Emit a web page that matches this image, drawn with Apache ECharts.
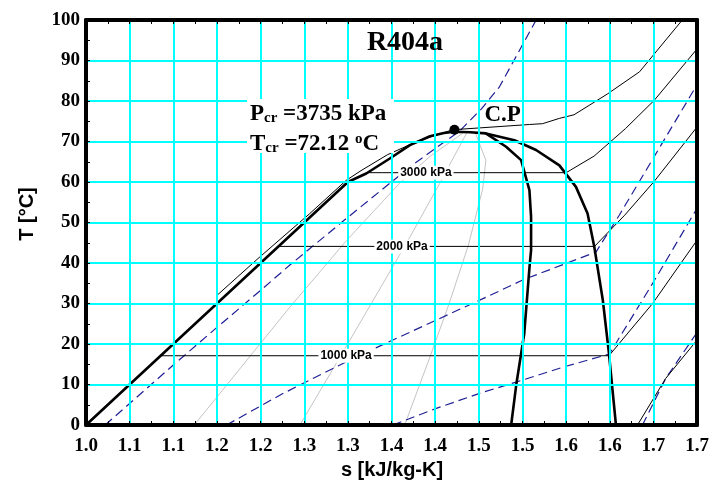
<!DOCTYPE html>
<html><head><meta charset="utf-8">
<script src="https://cdn.jsdelivr.net/npm/echarts@6/dist/echarts.min.js"></script>
<style>html,body{margin:0;padding:0;background:#fff}#c{width:712px;height:493px}</style>
</head><body><div id="c"></div>
<script>
// ---- tick labels ----
const xTickLabels = ['1.0','1.1','1.1','1.2','1.2','1.3','1.3','1.4','1.4','1.5','1.5','1.6','1.6','1.7','1.7'];
const yTickLabels = ['0','10','20','30','40','50','60','70','80','90','100'];

// ---- saturation dome (liquid + top + vapour) ----
const domeS = [1.000,1.050,1.100,1.150,1.200,1.250,1.300,1.321,1.348,1.371,1.394,1.410,1.422,1.440,1.458,1.4907,1.5155,1.5422,1.5612,1.5745,1.5822,1.592,1.599,1.607];
const domeT = [0,10,20,30,40,50,60,62.1,65.8,69.1,71.3,72.1,72.4,72.3,72.0,70.3,67.9,64.1,58.8,52.2,44.0,30.8,17.7,0];

// ---- inner thick quality line ----
const innerS = [1.458,1.4812,1.4984,1.5079,1.5098,1.5098,1.508,1.502,1.493,1.487];
const innerT = [72.0,68.7,65.4,58.0,51.4,43.2,39.0,22.6,10.2,0];

// ---- grey quality lines ----
const g1S = [1.124,1.2335,1.2986,1.3593,1.395,1.432];
const g1T = [0,29.1,45.6,59.7,66.5,72.1];
const g2S = [1.245,1.300,1.359,1.371,1.405,1.436];
const g2T = [0,20.1,41.9,46.4,59.6,72.1];
const g3S = [1.365,1.394,1.416,1.438,1.4545,1.458,1.446];
const g3T = [0,16.8,30.0,44.4,58.4,65.4,72.1];

// ---- isobars (thin black) ----
const pHighS = [1.150,1.197,1.2563,1.298,1.315,1.345,1.380,1.420,1.508,1.523,1.5421,1.559,1.597,1.634,1.683,1.690];
const pHighT = [32.0,41.1,52.2,60.4,62.8,66.7,70.1,72.9,74.2,74.4,75.7,76.6,81.7,87.2,100,102];
const p3000S = [1.322,1.550,1.582,1.618,1.651,1.6985,1.71];
const p3000T = [62.3,62.3,66.4,73.2,80.2,92.5,95];
const p2000S = [1.220,1.5825,1.617,1.651,1.6985,1.71];
const p2000T = [44.1,44.1,51.8,60.2,73.2,76];
const p1000S = [1.0855,1.599,1.649,1.6985,1.71];
const p1000T = [17.1,17.1,30.0,45.2,49];
const pLowS = [1.6317,1.664,1.6985,1.71];
const pLowT = [0,11.5,20.6,24];

// ---- dashed navy lines ----
const d1S = [1.022,1.100,1.150,1.2003,1.2335,1.300,1.3498,1.3764,1.428,1.4527,1.4736,1.5156];
const d1T = [0,14.8,24.1,33.3,39.5,51.3,60.0,64.6,72.6,78.0,83.5,100];
const d2S = [1.161,1.224,1.2944,1.3326,1.4012,1.4627,1.5002,1.5498,1.5841,1.6108,1.6985,1.71];
const d2T = [0,7.6,15.2,19.1,25.9,32.0,35.8,39.9,42.7,51.8,83.5,87];
const d3S = [1.3515,1.4012,1.4507,1.4927,1.5498,1.5994,1.6489,1.6985,1.71];
const d3T = [0,4.1,7.8,10.6,14.5,17.5,34.9,53.0,57];
const d4S = [1.6374,1.664,1.6985,1.71];
const d4T = [0,11.5,22.4,26];

// ---- critical point & labels ----
const cpS = [1.422];
const cpT = [72.9];
const isoLabelText = ['3000 kPa','2000 kPa','1000 kPa'];
const isoLabelS = [1.3893,1.362,1.2979];
const isoLabelT = [62.3,44.1,17.1];

const zip = (a,b) => a.map((v,i)=>[v,b[i]]);
const SERIF = "'Liberation Serif','Times New Roman',serif";
const SANS = "'Liberation Sans',Arial,sans-serif";
const NAVY = '#1f1f96';

function line(s,t,color,width,type,z){
  return {type:'line',data:zip(s,t),symbol:'none',showSymbol:false,silent:true,
    lineStyle:{color:color,width:width,type:type||'solid'},z:z||2,animation:false};
}

const chart = echarts.init(document.getElementById('c'),null,{renderer:'canvas'});
const frameLine = {show:true,onZero:false,lineStyle:{color:'#000',width:4}};
const axisCommon = {
  axisLine:frameLine,
  axisTick:{show:true,inside:true,length:4,lineStyle:{color:'#000',width:1}},
  minorTick:{show:true,splitNumber:2,length:4,lineStyle:{color:'#000',width:1}},
  z:4
};
const gridLine = {show:true,showMinLine:false,showMaxLine:false,lineStyle:{color:'#00ffff',width:2}};
chart.setOption({
  animation:false,
  backgroundColor:'#fff',
  grid:{left:86,right:14,top:20,bottom:68,show:false},
  xAxis:[
    Object.assign({type:'value',min:1.0,max:1.7,interval:0.05,position:'bottom',
      splitLine:gridLine,
      axisLabel:{color:'#000',fontFamily:SERIF,fontWeight:'bold',fontSize:19,margin:12,
        formatter:v=>xTickLabels[Math.round((v-1.0)/0.05)]}},axisCommon),
    Object.assign({type:'value',min:1.0,max:1.7,interval:0.05,position:'top',
      splitLine:{show:false},axisLabel:{show:false}},axisCommon)
  ],
  yAxis:[
    Object.assign({type:'value',min:0,max:100,interval:10,position:'left',
      splitLine:gridLine,
      axisLabel:{color:'#000',fontFamily:SERIF,fontWeight:'bold',fontSize:19,margin:6,
        formatter:v=>yTickLabels[Math.round(v/10)]}},axisCommon),
    {type:'value',min:0,max:100,interval:10,position:'right',z:4,
      splitLine:{show:false},axisLabel:{show:false},axisTick:{show:false},minorTick:{show:false},
      axisLine:frameLine}
  ],
  series:[
    line(g1S,g1T,'#c4c4c4',1),
    line(g2S,g2T,'#c4c4c4',1),
    line(g3S,g3T,'#c4c4c4',1),
    line(d1S,d1T,NAVY,1.2,[9,5]),
    line(d2S,d2T,NAVY,1.2,[9,5]),
    line(d3S,d3T,NAVY,1.2,[9,5]),
    line(d4S,d4T,NAVY,1.2,[9,5]),
    line(pHighS,pHighT,'#000',1),
    line(p3000S,p3000T,'#000',1),
    line(p2000S,p2000T,'#000',1),
    line(p1000S,p1000T,'#000',1),
    line(pLowS,pLowT,'#000',1),
    line(domeS,domeT,'#000',2.6,'solid',3),
    line(innerS,innerT,'#000',2.6,'solid',3),
    {type:'scatter',data:zip(isoLabelS,isoLabelT).map((p,i)=>[p[0],p[1],isoLabelText[i]]),
      symbolSize:1,itemStyle:{color:'rgba(0,0,0,0)',opacity:1},silent:true,z:5,
      label:{show:true,position:'inside',formatter:p=>p.data[2],color:'#000',
        fontFamily:SANS,fontWeight:'bold',fontSize:12,backgroundColor:'#fff',padding:[1,2]}},
    {type:'scatter',data:zip(cpS,cpT),symbolSize:10,itemStyle:{color:'#000',opacity:1},silent:true,z:6,
      label:{show:true,formatter:'C.P',position:'right',distance:25,offset:[0,-15],color:'#000',opacity:1,
        fontFamily:SERIF,fontWeight:'bold',fontSize:23}}
  ],
  graphic:[
    {type:'rect',shape:{x:247,y:99,width:147,height:54},style:{fill:'#fff'},z:50,silent:true},
    {type:'text',x:250,y:114,z:51,silent:true,style:{
      text:'{m|P}{s|cr}{m| =3735 kPa}',verticalAlign:'middle',align:'left',
      rich:{m:{fontFamily:SERIF,fontWeight:'bold',fontSize:23,lineHeight:24,fill:'#000'},
            s:{fontFamily:SERIF,fontWeight:'bold',fontSize:15,lineHeight:12,verticalAlign:'bottom',fill:'#000'}}}},
    {type:'text',x:250,y:144,z:51,silent:true,style:{
      text:'{m|T}{s|cr}{m| =72.12 }{u|o}{m|C}',verticalAlign:'middle',align:'left',
      rich:{m:{fontFamily:SERIF,fontWeight:'bold',fontSize:23,lineHeight:24,fill:'#000'},
            s:{fontFamily:SERIF,fontWeight:'bold',fontSize:15,lineHeight:12,verticalAlign:'bottom',fill:'#000'},
            u:{fontFamily:SERIF,fontWeight:'bold',fontSize:15,lineHeight:14,verticalAlign:'top',fill:'#000'}}}},
    {type:'text',x:405,y:43,z:51,silent:true,style:{text:'R404a',font:"bold 28px "+SERIF,fill:'#000',align:'center',verticalAlign:'middle'}},
    {type:'text',x:27,y:214,rotation:Math.PI/2,z:51,silent:true,style:{text:'T [°C]',font:"bold 20px "+SANS,fill:'#000',align:'center',verticalAlign:'middle'}},
    {type:'text',x:392,y:470,z:51,silent:true,style:{text:'s [kJ/kg-K]',font:"bold 20px "+SANS,fill:'#000',align:'center',verticalAlign:'middle'}}
  ]
});
</script></body></html>
